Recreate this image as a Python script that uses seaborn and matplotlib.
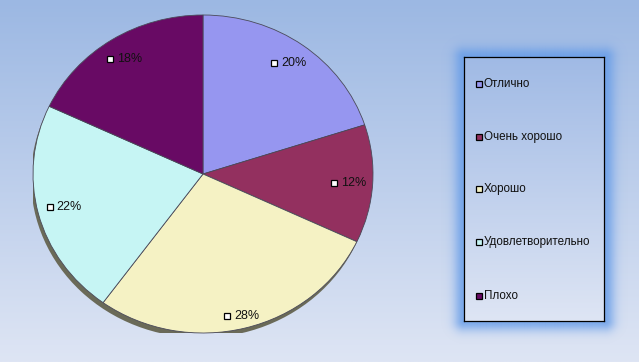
import numpy as np
import matplotlib
matplotlib.use("Agg")
import matplotlib.pyplot as plt
import matplotlib.transforms as mtransforms
from matplotlib.patches import Ellipse
import seaborn as sns

categories = ["Отлично", "Очень хорошо", "Хорошо", "Удовлетворительно", "Плохо"]
values = [20, 12, 28, 22, 18]
pct_labels = ["20%", "12%", "28%", "22%", "18%"]
colors = ["#9696F0", "#93305F", "#F5F2C4", "#C6F5F4", "#680A64"]

sns.set_theme(style="white")
plt.rcParams["font.family"] = ["Liberation Sans", "DejaVu Sans"]

W, H = 639, 362
fig = plt.figure(figsize=(W / 100, H / 100), dpi=100)

# background gradient
bg = fig.add_axes([0, 0, 1, 1], zorder=0)
top = np.array([156, 184, 227]) / 255
bot = np.array([222, 229, 244]) / 255
t = np.linspace(0, 1, 256)[:, None]
grad = top[None, :] * (1 - t) + bot[None, :] * t
bg.imshow(np.repeat(grad[:, None, :], 2, axis=1), aspect="auto", extent=[0, 1, 0, 1])
bg.set_axis_off()

# pie
px0, px1, py0, py1 = 33, 373, 15, 333
ax = fig.add_axes([px0 / W, (H - py1) / H, (px1 - px0) / W, (py1 - py0) / H], zorder=2)
shadow = Ellipse((-0.012, -0.03), 2.0, 2.0, facecolor="#6a6a58", edgecolor="none", zorder=0)
ax.add_patch(shadow)
wedges, _ = ax.pie(values, colors=colors, startangle=90, counterclock=False,
                   wedgeprops=dict(edgecolor="#4a4a5a", linewidth=0.6, zorder=1))
ax.set_aspect("auto")
ax.set_xlim(-1, 1)
ax.set_ylim(-1, 1)
ax.set_axis_off()

dists = [0.86, 0.86, 0.92, 0.84, 0.86]
mtrans = mtransforms.offset_copy(ax.transData, fig=fig, x=-15, y=0, units="dots")
for w, lab, d in zip(wedges, pct_labels, dists):
    ang = np.deg2rad((w.theta1 + w.theta2) / 2)
    x, y = d * np.cos(ang), d * np.sin(ang)
    ax.plot([x], [y], marker="s", markersize=5, markerfacecolor="white",
            markeredgecolor="black", markeredgewidth=0.9, transform=mtrans, zorder=5)
    ax.annotate(lab, (x, y), xytext=(-8, 0), textcoords="offset pixels",
                ha="left", va="center", fontsize=9, color="#111111", zorder=5)

# legend glow
lx0, lx1, ly0, ly1 = 464, 604, 57, 321
pad = 24
gx0, gx1, gy0, gy1 = lx0 - pad, lx1 + pad, ly0 - pad, ly1 + pad
gax = fig.add_axes([gx0 / W, (H - gy1) / H, (gx1 - gx0) / W, (gy1 - gy0) / H], zorder=3)
xs = np.arange(gx0, gx1) + 0.5
ys = np.arange(gy0, gy1) + 0.5
XX, YY = np.meshgrid(xs, ys)
dx = np.maximum(np.maximum(lx0 - XX, XX - lx1), 0)
dy = np.maximum(np.maximum(ly0 - YY, YY - ly1), 0)
dd = np.sqrt(dx ** 2 + dy ** 2)
alpha = np.clip(np.exp(-(dd / 10.0) ** 2), 0, 1) * 0.8
rgba = np.zeros(XX.shape + (4,))
rgba[..., 0] = 100 / 255
rgba[..., 1] = 155 / 255
rgba[..., 2] = 232 / 255
rgba[..., 3] = alpha
gax.imshow(rgba, aspect="auto", extent=[0, 1, 0, 1], interpolation="bilinear")
gax.set_axis_off()

# legend box
lax = fig.add_axes([lx0 / W, (H - ly1) / H, (lx1 - lx0) / W, (ly1 - ly0) / H], zorder=4)
ltop = np.array([160, 186, 229]) / 255
lbot = np.array([222, 229, 244]) / 255
lgrad = ltop[None, :] * (1 - t) + lbot[None, :] * t
lax.imshow(np.repeat(lgrad[:, None, :], 2, axis=1), aspect="auto", extent=[0, 1, 0, 1])
lax.set_xlim(0, 1)
lax.set_ylim(0, 1)
lax.set_xticks([])
lax.set_yticks([])
for s in lax.spines.values():
    s.set_visible(True)
    s.set_color("black")
    s.set_linewidth(0.9)

entry_y = [84, 137, 189, 242, 296]
for cat, col, yy in zip(categories, colors, entry_y):
    fy = (ly1 - yy) / (ly1 - ly0)
    fx = (479 - lx0) / (lx1 - lx0)
    lax.plot([fx], [fy], marker="s", markersize=5, markerfacecolor=col,
             markeredgecolor="black", markeredgewidth=0.9)
    lax.text((484 - lx0) / (lx1 - lx0), fy, cat, ha="left", va="center",
             fontsize=8.4, color="#111111")

fig.savefig("out.png", dpi=100)
